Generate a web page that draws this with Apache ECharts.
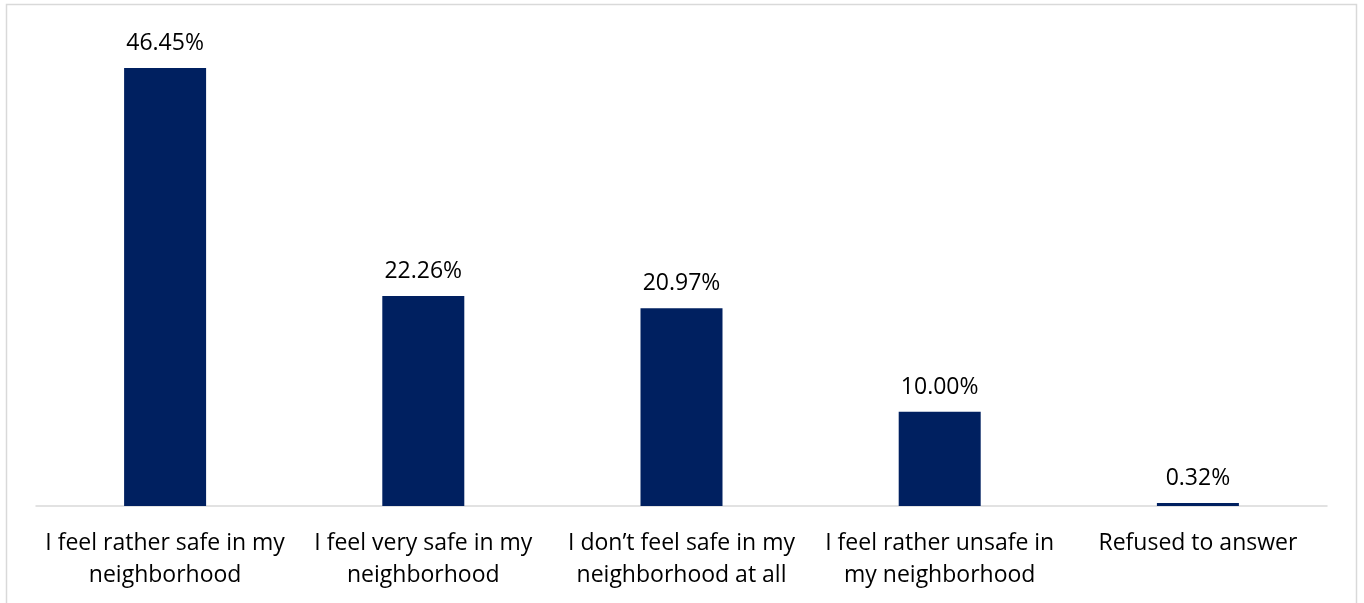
<!DOCTYPE html>
<html>
<head>
<meta charset="utf-8">
<script src="https://cdn.jsdelivr.net/npm/echarts@6/dist/echarts.min.js"></script>
<style>
html,body{margin:0;padding:0;background:#fff;}
#chart{width:1364px;height:603px;}
</style>
</head>
<body>
<div id="chart"></div>
<script>
const categories = [
  "I feel rather safe in my\nneighborhood",
  "I feel very safe in my\nneighborhood",
  "I don\u2019t feel safe in my\nneighborhood at all",
  "I feel rather unsafe in\nmy neighborhood",
  "Refused to answer"
];
const values = [46.45, 22.26, 20.97, 10.00, 0.32];

const chart = echarts.init(document.getElementById('chart'));
const FONT = 'Open Sans';
chart.setOption({
  backgroundColor: '#fff',
  animation: false,
  graphic: [{
    type: 'rect',
    shape: {x: 6.5, y: 4.5, width: 1350, height: 640},
    style: {fill: 'none', stroke: '#d9d9d9', lineWidth: 1.5},
    silent: true
  }],
  grid: {left: 36, right: 37, top: 34.5, bottom: 97, containLabel: false},
  xAxis: {
    type: 'category',
    data: categories,
    axisLine: {lineStyle: {color: '#d9d9d9', width: 1.5}},
    axisTick: {show: false},
    axisLabel: {
      interval: 0,
      color: '#000',
      fontFamily: FONT,
      fontSize: 23,
      lineHeight: 32,
      margin: 21
    }
  },
  yAxis: {
    type: 'value',
    min: 0,
    max: 50,
    show: false,
    splitLine: {show: false}
  },
  series: [{
    type: 'bar',
    data: values,
    barWidth: 82,
    itemStyle: {color: '#002060'},
    label: {
      show: true,
      position: 'top',
      distance: 13,
      color: '#000',
      fontFamily: FONT,
      fontSize: 23,
      formatter: p => p.value.toFixed(2) + '%'
    }
  }]
});
</script>
</body>
</html>
